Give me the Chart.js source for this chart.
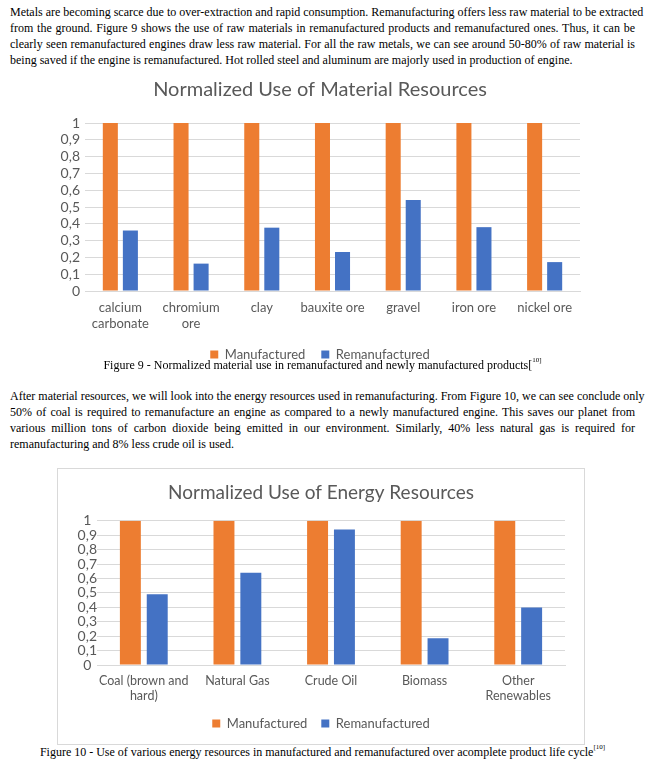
<!DOCTYPE html>
<html>
<head>
<meta charset="utf-8">
<script src="https://cdn.jsdelivr.net/npm/chart.js@4"></script>
<style>
  body { margin: 0; background: #fff; width: 645px; height: 768px; position: relative; overflow: hidden; }
  .txt { position: absolute; left: 10px; width: 625px; font-family: "Liberation Serif", serif; font-size: 12px; color: #000; }
  .ln { height: 16px; line-height: 16px; text-align: justify; text-align-last: justify; white-space: nowrap; }
  .ln.last { text-align-last: left; }
  .cap { position: absolute; left: 0; width: 645px; text-align: center; font-family: "Liberation Serif", serif; font-size: 12px; }
  .cap sup { font-size: 7px; vertical-align: top; position: relative; top: -2px; }
  #box1 { position: absolute; left: 40px; top: 72px; width: 560px; height: 299px; }
  #box2 { position: absolute; left: 57px; top: 468px; width: 526px; height: 275px; border: 1px solid #d9d9d9; }
</style>
</head>
<body>
<div class="txt" style="top:4px">
  <div class="ln">Metals are becoming scarce due to over-extraction and rapid consumption. Remanufacturing offers less raw material to be extracted</div>
  <div class="ln">from the ground. Figure 9 shows the use of raw materials in remanufactured products and remanufactured ones. Thus, it can be</div>
  <div class="ln">clearly seen remanufactured engines draw less raw material. For all the raw metals, we can see around 50-80% of raw material is</div>
  <div class="ln last">being saved if the engine is remanufactured. Hot rolled steel and aluminum are majorly used in production of engine.</div>
</div>
<div id="box1"><canvas id="c1"></canvas></div>
<div class="cap" style="top:358px">Figure 9 - Normalized material use in remanufactured and newly manufactured products[<sup>10]</sup></div>
<div class="txt" style="top:388px">
  <div class="ln">After material resources, we will look into the energy resources used in remanufacturing. From Figure 10, we can see conclude only</div>
  <div class="ln">50% of coal is required to remanufacture an engine as compared to a newly manufactured engine. This saves our planet from</div>
  <div class="ln">various million tons of carbon dioxide being emitted in our environment. Similarly, 40% less natural gas is required for</div>
  <div class="ln last">remanufacturing and 8% less crude oil is used.</div>
</div>
<div id="box2"><canvas id="c2"></canvas></div>
<div class="cap" style="top:745px">Figure 10 - Use of various energy resources in manufactured and remanufactured over acomplete product life cycle<sup>[10]</sup></div>

<script>
const materialLabels = [["calcium", "carbonate"], ["chromium", "ore"], "clay", "bauxite ore", "gravel", "iron ore", "nickel ore"];
const materialManufactured = [1, 1, 1, 1, 1, 1, 1];
const materialRemanufactured = [0.36, 0.163, 0.377, 0.232, 0.542, 0.38, 0.172];

const energyLabels = [["Coal (brown and", "hard)"], "Natural Gas", "Crude Oil", "Biomass", ["Other", "Renewables"]];
const energyManufactured = [1, 1, 1, 1, 1];
const energyRemanufactured = [0.49, 0.64, 0.94, 0.185, 0.398];

const orange = "#ED7D31";
const blue = "#4472C4";
const grey = "#595959";
const chartFont = "Lato, 'Open Sans', sans-serif";

function commaTick(v) {
  return String(Math.round(v * 10) / 10).replace(".", ",");
}

function makeChart(id, title, labels, manu, reman, opts) {
  new Chart(document.getElementById(id), {
    type: "bar",
    data: {
      labels: labels,
      datasets: [
        { label: "Manufactured", data: manu, backgroundColor: orange,
          categoryPercentage: opts.cat, barPercentage: opts.bar },
        { label: "Remanufactured", data: reman, backgroundColor: blue,
          categoryPercentage: opts.cat, barPercentage: opts.bar },
      ],
    },
    options: {
      responsive: true,
      maintainAspectRatio: false,
      animation: false,
      layout: { padding: { bottom: opts.bottomPad } },
      plugins: {
        title: {
          display: true, text: title, color: grey,
          font: { family: chartFont, size: opts.titleSize, weight: "normal" },
          padding: opts.titlePad,
        },
        legend: {
          position: "bottom",
          labels: {
            color: grey, boxWidth: 8, boxHeight: 8, padding: opts.legendGap,
            font: { family: chartFont, size: 13 },
          },
        },
        tooltip: { enabled: false },
      },
      scales: {
        x: {
          grid: { display: false },
          border: { color: "#d9d9d9" },
          ticks: { color: grey, font: { family: chartFont, size: opts.xFont }, maxRotation: 0, autoSkip: false, padding: opts.xPad },
          afterFit: (s) => { s.height = opts.xHeight; },
        },
        y: {
          min: 0, max: 1,
          grid: { color: "#d9d9d9", drawTicks: false },
          border: { display: false },
          ticks: { stepSize: 0.1, autoSkip: false, color: grey, font: { family: chartFont, size: opts.yFont },
                   crossAlign: opts.yAlign, padding: opts.yPad, callback: commaTick },
          afterFit: (s) => { s.width = opts.yWidth; },
        },
        // empty strip on the right so the plot stops short of the chart edge
        yr: {
          axis: "y", position: "right", min: 0, max: 1,
          grid: { display: false }, border: { display: false },
          ticks: { display: false },
          afterFit: (s) => { s.width = opts.rightGap; },
        },
      },
    },
  });
}

makeChart("c1", "Normalized Use of Material Resources", materialLabels, materialManufactured, materialRemanufactured, {
  cat: 0.567, bar: 0.75, titleSize: 20, titlePad: { top: 6, bottom: 21 }, bottomPad: 0,
  legendGap: 16, xHeight: 41, xFont: 13, xPad: 1, yWidth: 45, yFont: 14, yAlign: "near", yPad: 5, rightGap: 20,
});

makeChart("c2", "Normalized Use of Energy Resources", energyLabels, energyManufactured, energyRemanufactured, {
  cat: 0.574, bar: 0.78, titleSize: 19, titlePad: { top: 12, bottom: 17 }, bottomPad: 4,
  legendGap: 14, xHeight: 38, xFont: 12.5, xPad: 0, yWidth: 39, yFont: 14, yAlign: "center", yPad: 0, rightGap: 19,
});
</script>
</body>
</html>
